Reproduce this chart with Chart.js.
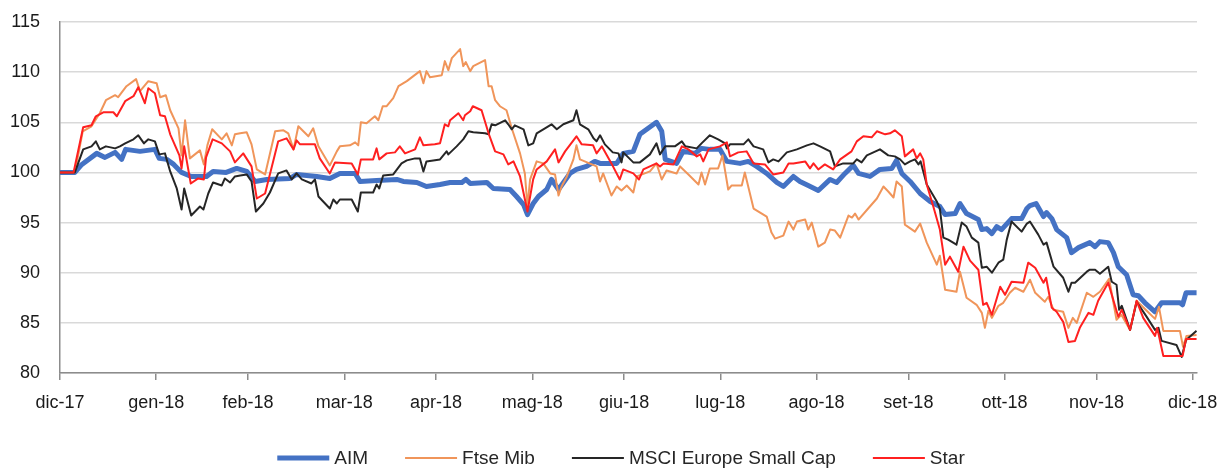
<!DOCTYPE html>
<html>
<head>
<meta charset="utf-8">
<script src="https://cdn.jsdelivr.net/npm/chart.js@4.4.1/dist/chart.umd.min.js"></script>
<style>
  html, body { margin: 0; padding: 0; background: #fff; }
</style>
</head>
<body>
<canvas id="graph" width="1224" height="468"></canvas>
<script>
// month labels and the trading-day index where each one sits
const months = ['dic-17', 'gen-18', 'feb-18', 'mar-18', 'apr-18', 'mag-18', 'giu-18',
                'lug-18', 'ago-18', 'set-18', 'ott-18', 'nov-18', 'dic-18'];
const monthDays = [0, 22, 43, 65, 86, 108, 129, 151, 173, 194, 216, 237, 259];

const yTicks = [80, 85, 90, 95, 100, 105, 110, 115];

// AIM
const aimX = [0, 3.4, 5, 8.4, 10.3, 12.6, 14.1, 15, 18.3, 21.7,
  22.7, 24.4, 26, 27.8, 30, 33.5, 35, 38, 40.4, 42.7,
  44.6, 47.3, 52.6, 54.1, 58.7, 61.7, 64, 67.5, 68.6, 72.4,
  77, 78.5, 81.6, 83.8, 86.9, 89.2, 91.9, 92.8, 93.8, 97.6,
  99.1, 102.9, 104.4, 106, 106.9, 108.2, 109.4, 111.3, 112.4, 114,
  116.6, 118.1, 120.4, 122.3, 123.5, 127.3, 128.8, 131.1, 132.6, 134.5,
  136.4, 137.6, 138.4, 141, 142.5, 145.2, 146.7, 148.6, 150.9, 152.5,
  155.5, 157.4, 159.3, 161.6, 163.9, 165.4, 167.7, 169.2, 171.1, 173.4,
  176.1, 177.6, 179.5, 181.4, 182.6, 185.2, 187.5, 190.2, 191.3, 192.5,
  194.4, 196.7, 199, 201.2, 202.4, 204.7, 205.8, 207.3, 210, 210.8,
  211.9, 213.1, 214.2, 215.3, 217.6, 219.9, 221.1, 221.8, 223.2, 224.9,
  225.6, 226.8, 227.9, 230.2, 231.3, 232.9, 235.5, 236.7, 237.8, 239.7,
  240.9, 242, 243.9, 245.4, 246.6, 248.1, 250.4, 251.9, 256.1, 256.7,
  257.5, 259.9];
const aimY = [100, 100, 100.8, 101.9, 101.5, 102, 101.3, 102.3, 102.1, 102.3,
  101.4, 101.3, 100.8, 100, 99.6, 99.6, 100.1, 100, 100.4, 100.1,
  99.1, 99.3, 99.4, 99.8, 99.6, 99.4, 99.9, 99.9, 99.1, 99.2,
  99.3, 99.1, 99, 98.6, 98.8, 99, 99, 99.3, 98.9, 99,
  98.4, 98.3, 97.6, 96.8, 95.8, 96.9, 97.6, 98.3, 99.3, 98.3,
  99.9, 100.3, 100.6, 101.1, 100.9, 100.9, 101.9, 102.1, 103.8, 104.4,
  105, 104.1, 101.3, 100.9, 102.1, 101.9, 102.4, 102.3, 102.3, 101.1,
  100.9, 101.1, 100.6, 99.9, 99, 98.6, 99.6, 99.1, 98.7, 98.2,
  99.3, 99, 99.9, 100.7, 99.9, 99.6, 100.3, 100.4, 101.2, 99.9,
  99.1, 97.9, 97.1, 96.6, 95.8, 95.9, 96.9, 95.9, 95.3, 94.3,
  94.4, 93.9, 94.6, 94.3, 95.4, 95.4, 96.4, 96.7, 96.9, 95.6,
  96, 95.4, 94.3, 93.5, 92, 92.5, 93, 92.6, 93.1, 93,
  92, 90.6, 89.8, 87.8, 87.7, 87, 86.1, 87, 87, 86.8,
  88, 88];

// Ftse Mib
const ftseX = [0, 3.4, 5.2, 7.2, 9.1, 10.5, 12.6, 13.3, 15.2, 17.4,
  18.3, 20.2, 22.1, 22.9, 24.2, 25.2, 27.1, 27.8, 28.6, 29.7,
  32, 32.9, 33.7, 34.8, 37, 38.1, 39.3, 40, 41.2, 42.7,
  43.8, 45, 46.9, 49.2, 51.1, 52.2, 53.4, 54.5, 56.8, 57.9,
  59.1, 61.7, 63.3, 64, 66.3, 67.5, 68.2, 68.8, 70.1, 72,
  72.8, 73.8, 74.7, 76.2, 77.4, 79.3, 82.3, 83.1, 83.8, 84.6,
  87.3, 88, 88.8, 89.6, 91.5, 92.2, 92.8, 93.8, 94.5, 97.2,
  98, 98.7, 99.5, 100.6, 102.1, 103.3, 105.2, 106.3, 106.9, 107.5,
  109, 110.5, 112.1, 113.2, 114, 114.7, 115.9, 117.4, 118.1, 118.9,
  122.7, 123.5, 124.2, 126.1, 127.3, 128.4, 129.6, 131.1, 131.9, 134.9,
  136.4, 137.6, 138.7, 141, 141.8, 143.7, 146, 146.7, 147.5, 148.6,
  150.5, 151.5, 152.8, 153.6, 155.9, 156.6, 158.6, 161.6, 162.7, 163.5,
  165.4, 166.6, 167.7, 168.5, 170.4, 171.1, 171.9, 173.4, 174.9, 176.1,
  177.2, 178.4, 180.3, 181.1, 181.8, 182.6, 185.2, 186.8, 188.3, 189.4,
  190.6, 191.3, 192.5, 193.2, 195.5, 196.7, 198.2, 200.5, 201.2, 202.4,
  205, 205.8, 207.3, 209.6, 210.8, 211.5, 212.3, 213.1, 214.6, 215.7,
  217.2, 218.4, 220.3, 221.8, 223, 225.2, 226, 227.2, 229.4, 230.6,
  231.6, 232.5, 234.8, 236.3, 237.8, 239.9, 241.6, 242.7, 244.7, 246.2,
  248.5, 250.4, 251.3, 252.3, 256.1, 256.8, 257.6, 259.9];
const ftseY = [100, 100, 104.1, 104.6, 105.9, 107.2, 107.7, 107.5, 108.6, 109.3,
  108.1, 109.1, 108.9, 107.5, 107.7, 106.2, 104.4, 101.7, 105.2, 101.4,
  102.2, 100.8, 102.7, 104.3, 103.3, 103.9, 102.7, 103.8, 103.9, 104,
  102.8, 100.3, 99.8, 104.1, 104.2, 103.9, 102.3, 104.6, 103.6, 104.4,
  102.6, 100.7, 102.1, 102.6, 102.7, 103, 102.7, 105, 104.9, 105.6,
  105.2, 106.6, 106.6, 107.4, 108.6, 109.1, 110.1, 108.9, 110.1, 109.5,
  109.7, 111.1, 110.2, 111.4, 112.3, 110.6, 111, 110.1, 110.6, 111.2,
  108.6, 108.6, 107.2, 106.6, 106.2, 104.4, 101.9, 99.9, 96.6, 99.3,
  101.1, 100.9, 99.9, 99.8, 97.7, 98.6, 99.6, 101.3, 102.7, 101.3,
  100.6, 99.1, 99.9, 97.7, 98.6, 98.2, 98.7, 98, 99.6, 100.1,
  100.9, 99.3, 100.2, 99.9, 100.6, 99.8, 98.8, 100, 98.8, 100.4,
  100.4, 101.7, 98.3, 98.7, 98.7, 100, 96.4, 95.6, 94, 93.4,
  93.7, 95.1, 94.3, 95.1, 95.3, 94.3, 95, 92.6, 93, 94.3,
  94.2, 93.5, 95.7, 95.5, 95.9, 95.3, 96.6, 97.4, 98.6, 98.1,
  97.5, 99.1, 98.6, 94.8, 94.1, 94.9, 93, 90.8, 91.7, 88.3,
  88.1, 90.1, 87.5, 86.8, 86, 84.5, 86.2, 85.5, 86.7, 87,
  88, 88.5, 88.1, 89.3, 88, 87.1, 87.6, 86.3, 86.1, 84.5,
  85.5, 85, 88, 87.6, 88.1, 89.4, 85.3, 85.8, 84.3, 87.2,
  86.2, 85.4, 86.6, 84.2, 84.2, 82.6, 83.7, 83.8];

// MSCI Europe Small Cap
const msciX = [0, 3.4, 5.3, 7.2, 8.2, 9.1, 10.5, 12.6, 13.7, 14.9,
  16.8, 17.9, 19.2, 20.2, 21.7, 22.7, 24, 25.2, 26.7, 27.8,
  28.4, 30, 32, 32.8, 33.9, 35, 37, 37.7, 38.9, 40,
  41.2, 42.7, 43.8, 44.8, 46.5, 48, 49.9, 51.8, 53, 54.1,
  55.3, 57.5, 58.3, 59.1, 61.7, 62.5, 63.3, 64, 66.7, 68.1,
  68.8, 71.6, 72.4, 73, 73.9, 76.2, 78.1, 79.3, 81.2, 82.3,
  83.1, 83.8, 86.9, 88.4, 88.8, 90.7, 92.2, 93.4, 94.5, 97.2,
  98, 98.7, 99.5, 101.8, 102.5, 103.3, 104, 106, 107.1, 108.2,
  109, 110.9, 112.4, 113.6, 115.1, 117.4, 118.1, 118.9, 120.8, 122,
  122.7, 123.5, 124.6, 126.4, 127.7, 128.4, 128.8, 131.1, 132.6, 134.9,
  136.4, 137.2, 138.4, 140.6, 142.2, 143, 145.6, 146.7, 148.6, 150.5,
  152.1, 152.5, 153.2, 156.3, 157.4, 158.6, 160.8, 162, 163.1, 164.3,
  166.2, 168.5, 170.8, 172.3, 173.8, 176.1, 177.2, 179.1, 181.4, 182.2,
  183.3, 184.5, 187.5, 189.4, 190.9, 192.1, 193.2, 194.4, 195.5, 196.3,
  196.8, 198.2, 200.5, 201.2, 202, 203.1, 205, 206.2, 207.3, 208.5,
  210, 210.8, 211.9, 213.1, 214.6, 215.7, 216.5, 217.6, 219.9, 221.1,
  221.8, 223.7, 224.9, 225.6, 227.2, 229.4, 230.6, 231.3, 232.1, 234.8,
  235.5, 236.7, 237.8, 239.7, 240.5, 241.6, 242.2, 242.8, 244.7, 246.2,
  248.5, 250.4, 251.2, 251.9, 255.3, 256.5, 257.5, 259.9];
const msciY = [100, 100, 102.3, 102.6, 103.1, 102.3, 102.6, 102.4, 102.6, 102.9,
  103.3, 103.7, 102.9, 103.3, 103.1, 101.8, 101.9, 100.1, 98.4, 96.3,
  98.4, 95.7, 96.6, 96.3, 97.9, 99, 98.7, 99.4, 99, 99.6,
  99.7, 99.8, 99.1, 96.1, 96.9, 98, 99.9, 100.2, 99.3, 99.9,
  99.3, 98.9, 99.3, 97.6, 96.4, 97.3, 96.9, 97.3, 97.3, 96.1,
  98, 98, 98.8, 98.4, 99.7, 99.8, 100.9, 101.2, 101.4, 101.4,
  100.1, 101.1, 101.3, 102.1, 101.8, 102.6, 103.3, 104.1, 104, 103.9,
  103.8, 104.8, 104.7, 105.2, 104.8, 104.3, 104.7, 104.3, 102.7, 102.9,
  103.9, 104.4, 104.8, 104.3, 104.8, 105.2, 106.2, 104.8, 104.3, 103.4,
  103.1, 103.7, 102.8, 102, 101.9, 101, 102, 101, 101, 101.8,
  102.9, 101.8, 102.6, 102.6, 103.1, 102.6, 102.4, 102.9, 103.7, 103.3,
  102.9, 102.4, 102.8, 102.8, 103.3, 102.6, 102.3, 101, 101.3, 101.1,
  102, 102.3, 102.7, 102.9, 102.6, 102.1, 100.6, 100.9, 100.9, 101.3,
  101, 101.7, 102.3, 101.7, 101.6, 101.3, 100.8, 101.1, 101.3, 100.8,
  101.1, 98.8, 97.1, 96.4, 93.5, 93.3, 92.8, 95, 94.6, 93.5,
  93, 90.5, 90.6, 90, 91, 91.3, 93.3, 95.1, 94.1, 94.9,
  95.1, 93.8, 92.8, 93, 90.6, 89.5, 88.1, 89, 89, 90.1,
  90.3, 90.3, 89.9, 90.6, 89.1, 88.8, 86.3, 86.7, 84.3, 87.1,
  85.6, 84.3, 84.5, 83.2, 82.8, 81.6, 83.3, 84.2];

// Star
const starX = [0, 3.1, 5.3, 7.2, 8.2, 9.9, 12.2, 13, 14.9, 16.8,
  17.9, 19.4, 20.2, 21.7, 22.9, 24, 25.2, 27.3, 27.8, 28.4,
  29.9, 31.6, 32.9, 33.4, 34.9, 37, 38.9, 40, 41.9, 43.8,
  45, 46.9, 49.9, 51.8, 53.4, 54.1, 54.9, 58.3, 59.4, 61.7,
  62.9, 66.7, 68.1, 68.8, 71.6, 72.4, 73, 74.7, 76.6, 77.7,
  78.9, 81.2, 82.3, 83.1, 85.7, 86.9, 88, 88.8, 89.2, 91.1,
  92.2, 92.6, 93.8, 94.4, 96.4, 98, 99.5, 101.4, 102.5, 103.7,
  105.2, 106.9, 108.2, 109, 111.3, 113.2, 114, 115.5, 118.1, 119.3,
  121.9, 122.7, 123.9, 126.1, 128, 128.8, 131.1, 132.4, 133.4, 134.9,
  136.4, 137.2, 138, 140.3, 142.2, 143.7, 145.6, 146.4, 147.1, 148.3,
  150.9, 152.5, 153.2, 155.1, 157, 158.6, 161.2, 163.1, 165.4, 166.6,
  167.7, 170.4, 171.5, 172.3, 173.4, 174.9, 176.8, 178.4, 181, 182.2,
  183.7, 185.6, 186.8, 188.7, 189.8, 190.9, 192.5, 193.2, 195.1, 195.9,
  196.7, 197.4, 198.2, 199.7, 201.2, 202.4, 203.5, 205.4, 206.6, 208.1,
  210, 211.1, 211.9, 213.1, 215, 216.1, 217.6, 220.3, 221.4, 223,
  224.9, 225.5, 226.8, 227.9, 229.4, 230.6, 232.1, 233.2, 235.2, 236.3,
  237.4, 239.7, 242, 242.8, 244.7, 246.2, 247.7, 250.4, 250.9, 252.3,
  256.7, 257.5, 259.9];
const starY = [100, 100, 104.5, 104.7, 105.6, 106, 106, 105.6, 107.1, 107.6,
  108.5, 106.9, 108.4, 107.9, 105.7, 105.6, 103.8, 101.7, 100.4, 102.6,
  98.9, 99.4, 99.3, 101.5, 103.3, 102.9, 102.1, 101, 101.9, 100.6,
  97.4, 97.9, 103.1, 103.4, 102.3, 103.2, 102.8, 102.8, 101.4, 99.9,
  101, 100.9, 99.8, 101.3, 101.3, 102.4, 101.3, 101.9, 102, 102.6,
  101.9, 102.3, 103.5, 102.7, 102.8, 102.9, 104.8, 104.6, 105.2, 105.9,
  105.2, 105.7, 106.1, 106.6, 106.2, 103.9, 102.1, 101.8, 100.8, 101.1,
  99.6, 96.1, 99.3, 100.3, 101.1, 102.3, 101, 102.1, 103.6, 102.8,
  102.7, 101.9, 102.6, 100.9, 99.3, 100.3, 99.9, 99.3, 100.3, 100.6,
  100.9, 100.6, 100.9, 100.8, 102.6, 102.3, 101.6, 101.8, 101.1, 102.3,
  102.6, 103, 101.6, 102, 102.1, 100.9, 100.8, 99.8, 100, 100.9,
  100.9, 101.1, 100.4, 100.9, 100.3, 100.8, 100.3, 101.3, 102.1, 103.1,
  103.6, 103.5, 104.1, 103.8, 103.9, 104.2, 103.6, 101.6, 102.3, 101.4,
  101.9, 101.3, 98.8, 96.6, 94.3, 90.8, 91.6, 90.1, 92.6, 91.2,
  90.3, 86.8, 87, 85.8, 88.6, 87.8, 89.1, 89, 91, 90.5,
  89, 89.5, 86.5, 86.1, 85.1, 83.1, 83.2, 84.5, 86, 85.8,
  87.2, 89, 85.6, 86.3, 84.3, 87.2, 85.5, 83.7, 84.5, 81.7,
  81.7, 83.4, 83.4];

function points(xs, ys) {
  return xs.map((x, i) => ({ x: x, y: ys[i] }));
}

const data = {
  datasets: [
    { label: 'AIM', data: points(aimX, aimY), borderColor: '#4472C4', borderWidth: 5, order: 4 },
    { label: 'Ftse Mib', data: points(ftseX, ftseY), borderColor: '#F0955A', borderWidth: 2, order: 3 },
    { label: 'MSCI Europe Small Cap', data: points(msciX, msciY), borderColor: '#262626', borderWidth: 2, order: 2 },
    { label: 'Star', data: points(starX, starY), borderColor: '#FF2020', borderWidth: 2, order: 1 }
  ]
};

// legend under the axis, drawn by hand so the spacing can match
const bottomLegend = {
  id: 'bottomLegend',
  afterDraw(chart) {
    const ctx = chart.ctx;
    const sample = 52, gap = 5, space = 37;
    ctx.save();
    ctx.font = '19px "Liberation Sans", Arial, sans-serif';
    ctx.textBaseline = 'middle';
    const items = chart.data.datasets.map(ds => ({ ds: ds, w: sample + gap + ctx.measureText(ds.label).width }));
    const total = items.reduce((s, it) => s + it.w, 0) + space * (items.length - 1);
    let x = 621 - total / 2;
    const y = 458;
    items.forEach(it => {
      ctx.strokeStyle = it.ds.borderColor;
      ctx.lineWidth = it.ds.borderWidth;
      ctx.beginPath();
      ctx.moveTo(x, y);
      ctx.lineTo(x + sample, y);
      ctx.stroke();
      ctx.fillStyle = '#262626';
      ctx.fillText(it.ds.label, x + sample + gap, y + 1);
      x += it.w + space;
    });
    ctx.restore();
  }
};

const config = {
  type: 'line',
  data: data,
  options: {
    responsive: false,
    animation: false,
    devicePixelRatio: 1,
    layout: { padding: { left: 10, right: 27, top: 22, bottom: 55 } },
    elements: {
      line: { tension: 0, borderJoinStyle: 'round', fill: false },
      point: { radius: 0 }
    },
    plugins: {
      legend: { display: false },
      tooltip: { enabled: false }
    },
    scales: {
      x: {
        type: 'linear',
        min: 0,
        max: 260,
        afterBuildTicks: axis => { axis.ticks = monthDays.map(v => ({ value: v })); },
        afterFit: axis => {
          axis.height = 40;
          axis.paddingLeft = 0;
          axis.paddingRight = 0;
        },
        ticks: {
          autoSkip: false,
          maxRotation: 0,
          padding: 12,
          color: '#1a1a1a',
          font: { size: 18 },
          callback: (v, i) => months[i]
        },
        grid: { drawOnChartArea: false, drawTicks: true, tickLength: 7, color: '#8c8c8c', lineWidth: 1.5 },
        border: { color: '#8c8c8c', width: 1.5 }
      },
      y: {
        min: 80,
        max: 115,
        afterBuildTicks: axis => { axis.ticks = yTicks.map(v => ({ value: v })); },
        afterFit: axis => {
          axis.width = 50;
          axis.paddingTop = 0;
          axis.paddingBottom = 0;
        },
        ticks: { padding: 20, color: '#1a1a1a', font: { size: 18 } },
        grid: { color: '#d9d9d9', lineWidth: 1.5, drawTicks: false },
        border: { color: '#8c8c8c', width: 1.5 }
      }
    }
  },
  plugins: [bottomLegend]
};

Chart.defaults.font.family = '"Liberation Sans", Arial, sans-serif';

// render chart
const myChart = new Chart(document.getElementById('graph'), config);
</script>
</body>
</html>
